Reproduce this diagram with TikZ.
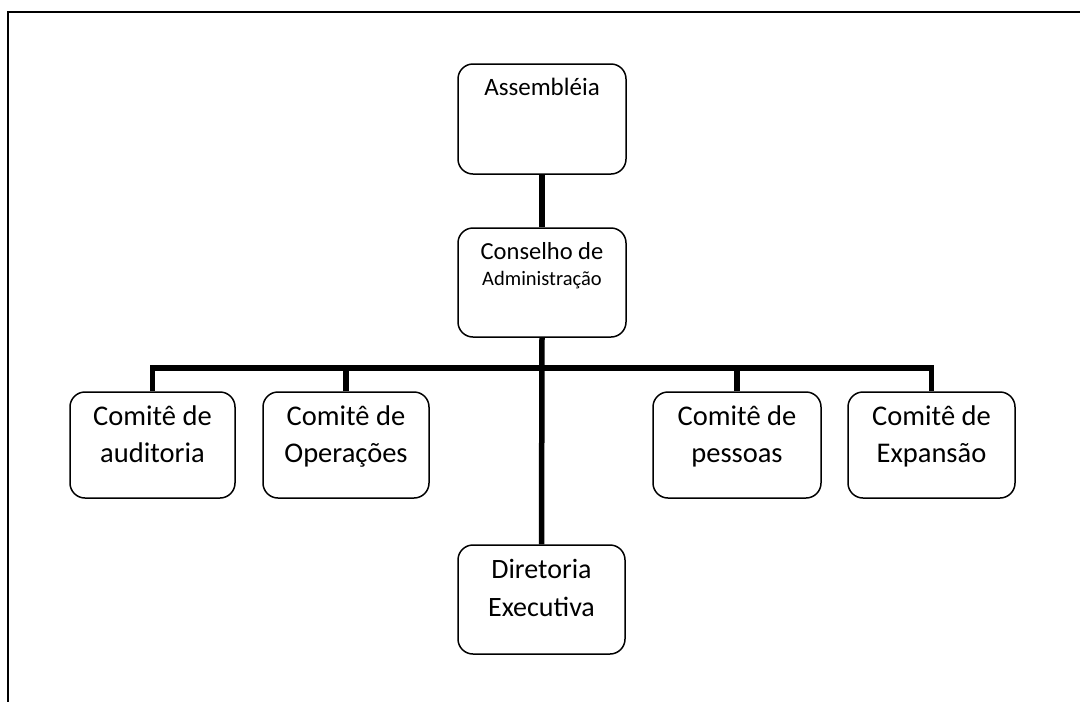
\documentclass[tikz,border=0pt]{standalone}
\usepackage{fontspec}
\setmainfont{Carlito}
\begin{document}
\begin{tikzpicture}[x=1pt,y=-1pt,
  box/.style={draw, line width=1.5pt, rounded corners=15pt, inner sep=0pt},
  conn/.style={line width=5.5pt},
  framestyle/.style={line width=2pt},
  lbl/.style={anchor=base, inner sep=0pt, font=\fontsize{28.5}{37}\selectfont}]
\useasboundingbox (0,0) rectangle (1080,702);
% frame
\coordinate (fb) at (8,702);
\coordinate (fc) at (8,12);
\coordinate (fr) at (1080,12);
\draw[framestyle] (fb) -- (fc) -- (fr);
% boxes
\node[box, minimum width=168pt, minimum height=110pt] (asm) at (542,119) {};
\node[box, minimum width=168pt, minimum height=109pt] (cons) at (542,282.5) {};
\node[box, minimum width=165pt, minimum height=106pt] (c1) at (152.5,445) {};
\node[box, minimum width=166pt, minimum height=106pt] (c2) at (346,445) {};
\node[box, minimum width=168pt, minimum height=106pt] (c3) at (737,445) {};
\node[box, minimum width=167pt, minimum height=106pt] (c4) at (931.5,445) {};
\node[box, minimum width=167pt, minimum height=109pt] (dir) at (541.5,599.5) {};
% labels
\node[lbl, font=\fontsize{25}{30}\selectfont] (tasm) at (542,95) {Assembléia};
\node[lbl, font=\fontsize{24.5}{26}\selectfont] (tcons) at (542,259) {\begin{tabular}[t]{@{}c@{}}Conselho de\\\fontsize{20.5}{26}\selectfont Administração\end{tabular}};
\node[lbl] (tc1) at (152.5,425) {\begin{tabular}[t]{@{}c@{}}Comitê de\\auditoria\end{tabular}};
\node[lbl] (tc2) at (346,425) {\begin{tabular}[t]{@{}c@{}}Comitê de\\Operações\end{tabular}};
\node[lbl] (tc3) at (737,425) {\begin{tabular}[t]{@{}c@{}}Comitê de\\pessoas\end{tabular}};
\node[lbl] (tc4) at (931.5,425) {\begin{tabular}[t]{@{}c@{}}Comitê de\\Expansão\end{tabular}};
\node[lbl, font=\fontsize{28}{38.5}\selectfont] (tdir) at (541.5,578) {\begin{tabular}[t]{@{}c@{}}Diretoria\\Executiva\end{tabular}};
% connectors
\coordinate (bar) at (542,368);
\draw[conn] (asm.south) -- (cons.north);
\draw[conn] (cons.south) -- (dir.north);
\draw[conn] (c1.north) |- (bar) -| (c4.north);
\draw[conn] (c2.north) -- (c2.north |- bar);
\draw[conn] (c3.north) -- (c3.north |- bar);
\end{tikzpicture}
\end{document}
